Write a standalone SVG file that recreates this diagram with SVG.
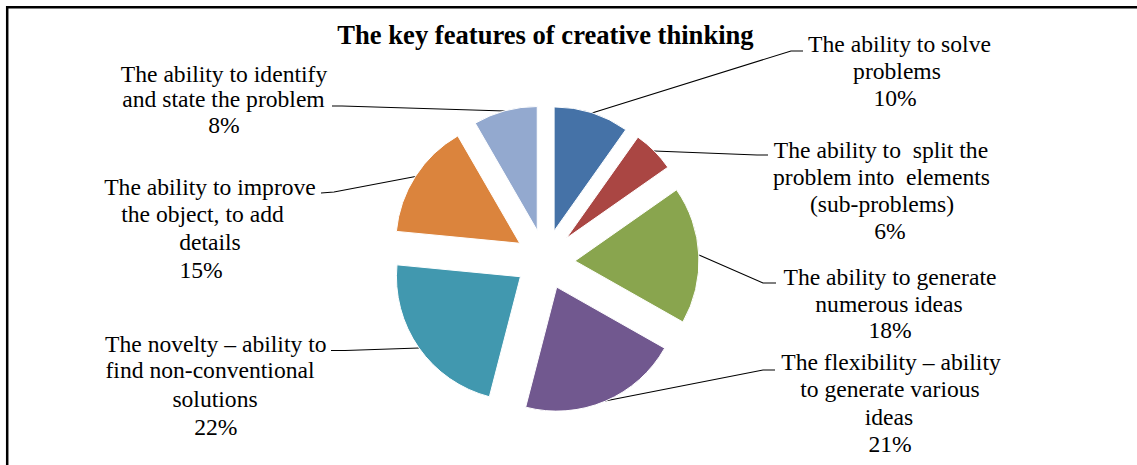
<svg xmlns="http://www.w3.org/2000/svg" width="1137" height="465" viewBox="0 0 1137 465">
<style>
.lbl{font-family:"Liberation Serif","Times New Roman",serif;font-size:23.6px;fill:#000;text-anchor:middle}
.ttl{font-family:"Liberation Serif","Times New Roman",serif;font-size:26.6px;font-weight:bold;fill:#000;text-anchor:middle}
.sl{stroke:#fff;stroke-width:1}
.ld{fill:none;stroke:#000;stroke-width:1.1}
.frame{stroke:#000;stroke-width:2.5;fill:none}
</style>
<rect width="1137" height="465" fill="#fff"/>
<path class="frame" d="M7.2,465 V7.3 H1137"/>
<text class="ttl" x="545.5" y="44">The key features of creative thinking</text>
<g id="connectors">
<polyline class="ld" points="592,113 791,51 803,51"/>
<polyline class="ld" points="654,151 757,155 768,155"/>
<polyline class="ld" points="699,255 763,283 776,283"/>
<polyline class="ld" points="605,401 763,370 775,370"/>
<polyline class="ld" points="419,348 345,350.5 331,350.5"/>
<polyline class="ld" points="415.5,176.5 334,192 321,193"/>
<polyline class="ld" points="505,111 342,106 332,106"/>
</g>
<g id="slice-solve">
<path class="sl" fill="#4572A7" d="M554.10,230.91 L554.10,106.91 A124,124 0 0 1 625.76,129.71 Z"/>
<text class="lbl" x="899.5" y="51.5">The ability to solve</text>
<text class="lbl" x="897" y="78.5">problems</text>
<text class="lbl" x="895" y="105.5">10%</text>
</g>
<g id="slice-split">
<path class="sl" fill="#AA4643" d="M566.27,238.34 L637.93,137.14 A124,124 0 0 1 667.85,167.21 Z"/>
<text class="lbl" xml:space="preserve" x="881" y="158">The ability to  split the</text>
<text class="lbl" xml:space="preserve" x="881.5" y="185">problem into  elements</text>
<text class="lbl" x="882" y="212">(sub-problems)</text>
<text class="lbl" x="890" y="239">6%</text>
</g>
<g id="slice-numerous">
<path class="sl" fill="#89A54E" d="M574.96,260.94 L676.54,189.81 A124,124 0 0 1 682.89,322.00 Z"/>
<text class="lbl" x="890" y="285">The ability to generate</text>
<text class="lbl" x="889" y="311.7">numerous ideas</text>
<text class="lbl" x="890" y="338.3">18%</text>
</g>
<g id="slice-flexibility">
<path class="sl" fill="#71588F" d="M556.72,287.12 L664.65,348.18 A124,124 0 0 1 525.67,407.16 Z"/>
<text class="lbl" x="891" y="370">The flexibility – ability</text>
<text class="lbl" x="890" y="396.7">to generate various</text>
<text class="lbl" x="889" y="425">ideas</text>
<text class="lbl" x="890" y="451.7">21%</text>
</g>
<g id="slice-novelty">
<path class="sl" fill="#4198AF" d="M520.42,276.71 L489.37,396.75 A124,124 0 0 1 396.99,264.83 Z"/>
<text class="lbl" x="215.8" y="351.7">The novelty – ability to</text>
<text class="lbl" x="210" y="378.3">find non-conventional</text>
<text class="lbl" x="215" y="406.7">solutions</text>
<text class="lbl" x="215.8" y="435">22%</text>
</g>
<g id="slice-improve">
<path class="sl" fill="#DB843D" d="M519.77,243.27 L396.34,231.39 A124,124 0 0 1 457.77,135.89 Z"/>
<text class="lbl" x="210" y="195">The ability to improve</text>
<text class="lbl" x="202.5" y="221.7">the object, to add</text>
<text class="lbl" x="210" y="250">details</text>
<text class="lbl" x="201" y="278.3">15%</text>
</g>
<g id="slice-identify">
<path class="sl" fill="#93A9CF" d="M537.24,230.52 L475.24,123.14 A124,124 0 0 1 537.24,106.52 Z"/>
<text class="lbl" x="224" y="81.5">The ability to identify</text>
<text class="lbl" x="223.5" y="107">and state the problem</text>
<text class="lbl" x="224" y="133">8%</text>
</g>
</svg>
